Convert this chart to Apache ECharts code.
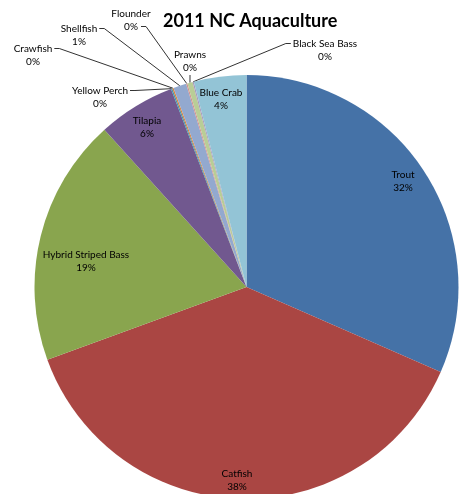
<!DOCTYPE html>
<html>
<head>
<meta charset="utf-8">
<script src="https://cdn.jsdelivr.net/npm/echarts@6/dist/echarts.min.js"></script>
<style>
html,body{margin:0;padding:0;background:#fff;}
#chart{width:459px;height:494px;}
</style>
</head>
<body>
<div id="chart"></div>
<script>
// ---- data ----
const titleText = '2011 NC Aquaculture';
const categories = ['Trout', 'Catfish', 'Hybrid Striped Bass', 'Tilapia', 'Yellow Perch', 'Crawfish', 'Shellfish', 'Flounder', 'Prawns', 'Black Sea Bass', 'Blue Crab'];
const shares = [31.6, 37.9, 18.9, 5.9, 0.1, 0.1, 1.0, 0.1, 0.4, 0.1, 4.0];

// ---- styles / layout ----
const sliceColors = ['#4572A7', '#AA4643', '#89A54E', '#71588F', '#4198AF', '#DB843D', '#93A9CF', '#D19392', '#B9CD96', '#A99BBD', '#93C4D6'];
const labelInside = [true, true, true, true, false, false, false, false, false, false, true];
// label block centres (text placement)
const labelCentre = [[403,181],[237,480],[86,261],[147,127],[100,97],[33,55],[79,35],[131,20],[190,61],[325,50],[221,99]];
// where the leader line meets the label: r1 = right of 1st line, r2 = right of 2nd line, l1 = left of 1st line, b = bottom centre
const lineAttach = [null,null,null,null,'r1','r1','r1','r2','b','l1',null];

const chart = echarts.init(document.getElementById('chart'), null, {renderer: 'canvas'});
const font = 'Lato';

const data = categories.map((name, i) => ({
  name: name,
  value: shares[i],
  itemStyle: {color: sliceColors[i]},
  label: {position: labelInside[i] ? 'inside' : 'outside'},
  labelLine: {show: !labelInside[i]}
}));

chart.setOption({
  backgroundColor: '#ffffff',
  animation: false,
  title: {
    text: titleText,
    left: 158,
    top: 7,
    textStyle: {fontFamily: font, fontWeight: 'bold', fontSize: 18, color: '#000'}
  },
  series: [{
    type: 'pie',
    center: [246.5, 287],
    radius: 212,
    startAngle: 90,
    clockwise: true,
    avoidLabelOverlap: false,
    percentPrecision: 0,
    itemStyle: {borderWidth: 0, borderColor: 'transparent'},
    data: data,
    label: {
      formatter: '{b}\n{d}%',
      fontFamily: font,
      fontSize: 10,
      lineHeight: 13,
      color: '#000',
      align: 'center'
    },
    labelLine: {
      show: true,
      length: 10,
      length2: 10,
      lineStyle: {color: '#333333', width: 1}
    },
    emphasis: {disabled: true},
    labelLayout: function (p) {
      const i = p.dataIndex;
      const c = labelCentre[i];
      const res = {x: c[0], y: c[1], align: 'center', verticalAlign: 'middle'};
      const side = lineAttach[i];
      if (side && p.labelLinePoints) {
        const w = p.labelRect.width, h = p.labelRect.height;
        const left = c[0] - w / 2, right = c[0] + w / 2;
        const top = c[1] - h / 2, bottom = c[1] + h / 2;
        const s = p.labelLinePoints[0];
        let e, m;
        if (side === 'r1') { e = [right + 2, top + h / 4]; m = [e[0] + 5, e[1]]; }
        else if (side === 'r2') { e = [c[0] + 10, top + 3 * h / 4]; m = [e[0] + 5, e[1]]; }
        else if (side === 'l1') { e = [left - 2, top + h / 4]; m = [e[0] - 5, e[1]]; }
        else { e = [c[0], bottom + 1]; m = [c[0], bottom + 2]; }
        res.labelLinePoints = [s, m, e];
      }
      return res;
    }
  }]
});
</script>
</body>
</html>
